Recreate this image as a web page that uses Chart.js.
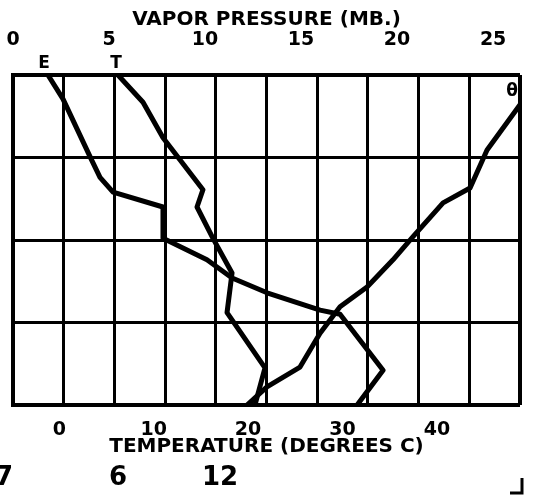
<!DOCTYPE html>
<html>
<head>
<meta charset="utf-8">
<script src="https://cdn.jsdelivr.net/npm/chart.js@4.4.0/dist/chart.umd.min.js"></script>
<style>
  html, body { margin: 0; padding: 0; background: #fff; }
</style>
</head>
<body>
<canvas id="myChart" width="535" height="503"></canvas>
<script>
// vapor pressure curve (E), mb, by level (0 = bottom, 4 = top)
const eVapor = [1.82, 2.60, 4.01, 4.53, 5.21, 7.81, 7.81, 10.10, 11.41, 13.23, 15.99, 17.03, 19.27, 17.92];
const eLevel = [4.00, 3.71, 3.01, 2.76, 2.58, 2.40, 2.02, 1.76, 1.54, 1.36, 1.15, 1.10, 0.42, 0.00];
// temperature curve (T), deg C
const tTemp = [6.22, 8.87, 10.99, 15.22, 14.59, 16.28, 18.30, 17.77, 21.79, 20.73];
const tLevel = [4.00, 3.67, 3.24, 2.61, 2.40, 2.02, 1.60, 1.12, 0.45, 0.00];
// theta curve, deg C
const thTemp = [48.8, 45.31, 43.51, 40.65, 37.47, 35.35, 32.60, 29.74, 27.62, 25.50, 22.00, 19.89];
const thLevel = [3.64, 3.09, 2.63, 2.45, 2.04, 1.76, 1.43, 1.19, 0.87, 0.46, 0.22, 0.00];
// tick labels
const vaporTicks = [0, 5, 10, 15, 20, 25];
const tempTicks = [0, 10, 20, 30, 40];
const footer = ['57', '6', '12'];

Chart.defaults.font.family = '"DejaVu Sans", sans-serif';
Chart.defaults.font.weight = 'bold';
Chart.defaults.color = '#000';

function pts(xs, ys) {
    return xs.map((v, i) => ({ x: v, y: ys[i] }));
}

function curve(label, xs, ys, axis, dx, dy) {
    return {
        label: label,
        data: pts(xs, ys),
        xAxisID: axis,
        yAxisID: 'y',
        borderColor: '#000',
        borderWidth: 5,
        borderJoinStyle: 'round',
        borderCapStyle: 'round',
        pointRadius: 0,
        fill: false,
        tension: 0,
        tagDx: dx,      // where the curve's letter sits, from its first point
        tagDy: dy
    };
}

// letters on the curves + the plotter footer
const extras = {
    id: 'extras',
    afterDatasetsDraw(chart) {
        const ctx = chart.ctx;
        ctx.save();
        ctx.fillStyle = '#000';
        ctx.font = 'bold 17px "DejaVu Sans"';
        ctx.textAlign = 'center';
        ctx.textBaseline = 'middle';
        chart.data.datasets.forEach((ds, i) => {
            let p = chart.getDatasetMeta(i).data[0];
            ctx.fillText(ds.label, p.x + ds.tagDx, p.y + ds.tagDy);
        });

        ctx.font = 'bold 26px "DejaVu Sans"';
        ctx.textBaseline = 'alphabetic';
        ctx.textAlign = 'right';
        ctx.fillText(footer[0], 13, 485);
        ctx.textAlign = 'center';
        ctx.fillText(footer[1], 118, 485);
        ctx.fillText(footer[2], 220, 485);

        ctx.lineWidth = 3;
        ctx.strokeStyle = '#000';
        ctx.beginPath();
        ctx.moveTo(522, 478);
        ctx.lineTo(522, 493);
        ctx.lineTo(510, 493);
        ctx.stroke();
        ctx.restore();
    }
};

const edgeWidth = (c, lo, hi) => (c.tick && (c.tick.value === lo || c.tick.value === hi)) ? 4 : 3;

const ctx = document.getElementById('myChart');
const myChart = new Chart(ctx, {
    type: 'line',
    data: {
        datasets: [
            curve('E', eVapor, eLevel, 'vapor', -4, -11),
            curve('T', tTemp, tLevel, 'temp', -2, -11),
            curve('\u03B8', thTemp, thLevel, 'temp', -8, -13)
        ]
    },
    options: {
        responsive: false,
        animation: false,
        layout: { padding: { left: 0, right: 15, top: 0, bottom: 0 } },
        plugins: {
            legend: { display: false },
            tooltip: { enabled: false }
        },
        scales: {
            vapor: {
                type: 'linear',
                position: 'top',
                min: 0,
                max: 26.4,
                afterBuildTicks: s => { s.ticks = vaporTicks.map(v => ({ value: v })); },
                afterFit: s => { s.height = 75; },
                // tick marks hidden, their length only lifts the labels
                grid: { display: false, drawTicks: true, tickLength: 24 },
                border: { display: false },
                ticks: { padding: 0, font: { size: 19, weight: 'bold' } },
                title: {
                    display: true,
                    text: 'VAPOR PRESSURE (MB.)',
                    font: { size: 20, weight: 'bold' },
                    padding: { top: 8, bottom: 0 }
                }
            },
            temp: {
                type: 'linear',
                position: 'bottom',
                min: -4.9,
                max: 48.8,
                afterBuildTicks: s => { s.ticks = tempTicks.map(v => ({ value: v })); },
                afterFit: s => { s.height = 98; },
                grid: { display: false, drawTicks: true, tickLength: 14 },
                border: { display: false },
                ticks: { padding: 0, font: { size: 19, weight: 'bold' } },
                title: {
                    display: true,
                    text: 'TEMPERATURE (DEGREES C)',
                    font: { size: 20, weight: 'bold' },
                    padding: { top: 0, bottom: 44 }
                }
            },
            cols: {
                type: 'linear',
                position: 'bottom',
                min: 0,
                max: 10,
                afterFit: s => { s.height = 0; },
                ticks: { display: false, stepSize: 1 },
                grid: { color: '#000', lineWidth: c => edgeWidth(c, 0, 10), drawTicks: false },
                border: { display: false }
            },
            y: {
                type: 'linear',
                position: 'left',
                min: 0,
                max: 4,
                afterFit: s => { s.width = 13; },
                ticks: { display: false, stepSize: 1 },
                grid: { color: '#000', lineWidth: c => edgeWidth(c, 0, 4), drawTicks: false },
                border: { color: '#000', width: 4 }
            }
        }
    },
    plugins: [extras]
});
</script>
</body>
</html>
